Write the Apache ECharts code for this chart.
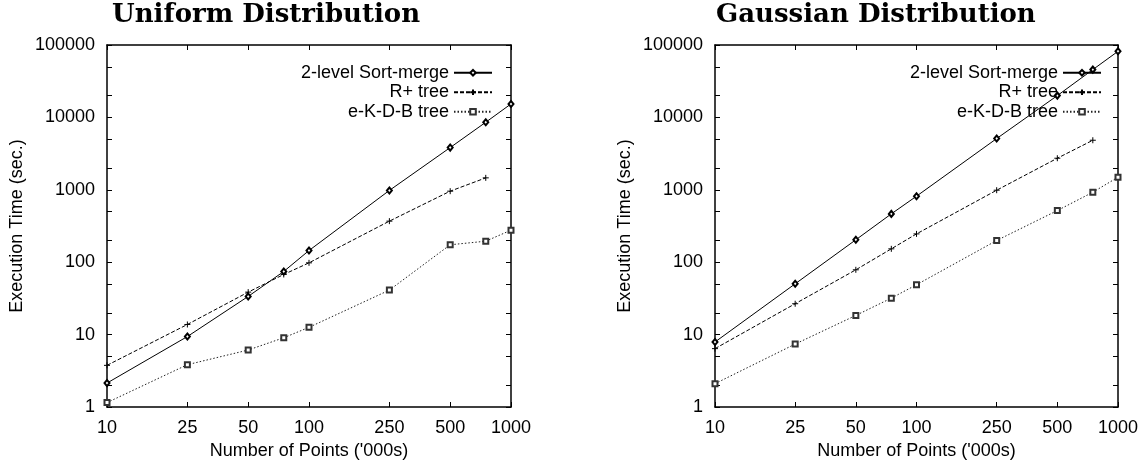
<!DOCTYPE html>
<html><head><meta charset="utf-8">
<script src="https://cdn.jsdelivr.net/npm/echarts@6/dist/echarts.min.js"></script>
<style>html,body{margin:0;padding:0;background:#fff}#c{width:1143px;height:460px}</style>
</head><body><div id="c"></div>
<script>
// ---- data ----
const points = [10, 25, 50, 75, 100, 250, 500, 750, 1000];
const xTickValues = [10, 25, 50, 100, 250, 500, 1000];
const yTickValues = [1, 2, 5, 10, 20, 50, 100, 200, 500, 1000, 2000, 5000, 10000, 20000, 50000, 100000];
const seriesNames = ['2-level Sort-merge', 'R+ tree', 'e-K-D-B tree'];
const titles = ['Uniform Distribution', 'Gaussian Distribution'];
const xAxisTitle = "Number of Points ('000s)";
const yAxisTitle = 'Execution Time (sec.)';
const uniformSortMerge = [2.14, 9.4, 33.7, 74.5, 145, 980, 3830, 8570, 15350];
const uniformRPlus = [3.76, 13.8, 38.6, 67.7, 98, 369, 957, 1462, null];
const uniformKDB = [1.15, 3.84, 6.12, 9.05, 12.6, 41.2, 174, 195, 277];
const gaussSortMerge = [7.9, 50.3, 204, 465, 816, 5100, 20000, 45700, 81800];
const gaussRPlus = [6.4, 26.7, 78.5, 153, 246, 987, 2730, 4835, null];
const gaussKDB = [2.1, 7.4, 18.4, 31.9, 48.8, 199.5, 517, 926, 1493];

// ---- chart ----
const FONT = 'Liberation Sans';
const BLACK = '#000';
const plain = v => String(Math.round(v));
function pairs(vals) {
  const out = [];
  points.forEach((p, i) => { if (vals[i] != null) out.push([p, vals[i]]); });
  return out;
}
function xAxesFor(g) {
  const base = {
    type: 'log', logBase: 10, gridIndex: g, min: 10, max: 1000,
    splitLine: { show: false }, minorTick: { show: false },
    axisLine: { show: true, onZero: false, lineStyle: { color: BLACK, width: 1.5 } },
    axisTick: { show: true, inside: true, length: 5, customValues: xTickValues, lineStyle: { color: BLACK, width: 1 } }
  };
  return [
    Object.assign({}, base, {
      position: 'bottom', name: xAxisTitle, nameLocation: 'middle', nameGap: 32,
      nameTextStyle: { fontFamily: FONT, fontSize: 18, color: BLACK },
      axisLabel: { show: true, margin: 12, customValues: xTickValues, formatter: plain, fontFamily: FONT, fontSize: 18, color: BLACK }
    }),
    Object.assign({}, base, { position: 'top', axisLabel: { show: false } })
  ];
}
function yAxesFor(g) {
  const base = {
    type: 'log', logBase: 10, gridIndex: g, min: 1, max: 100000,
    splitLine: { show: false }, minorTick: { show: false },
    axisLine: { show: true, onZero: false, lineStyle: { color: BLACK, width: 1.5 } },
    axisTick: { show: true, inside: true, length: 5, customValues: yTickValues, lineStyle: { color: BLACK, width: 1 } }
  };
  return [
    Object.assign({}, base, {
      position: 'left', name: yAxisTitle, nameLocation: 'middle', nameGap: 81,
      nameTextStyle: { fontFamily: FONT, fontSize: 18, color: BLACK },
      axisLabel: { show: true, margin: 12, formatter: plain, fontFamily: FONT, fontSize: 18, color: BLACK }
    }),
    Object.assign({}, base, { position: 'right', axisLabel: { show: false } })
  ];
}
const plusSymbol = 'path://M0,4L8,4M4,0L4,8';
function seriesFor(g, sm, rp, kdb) {
  const xi = g * 2, yi = g * 2;
  return [
    { name: seriesNames[0], type: 'line', xAxisIndex: xi, yAxisIndex: yi, data: pairs(sm),
      symbol: 'emptyDiamond', symbolSize: [5, 6], showAllSymbol: true,
      itemStyle: { color: BLACK, borderColor: BLACK, borderWidth: 1 },
      lineStyle: { color: BLACK, width: 1, type: 'solid' }, z: 3 },
    { name: seriesNames[1], type: 'line', xAxisIndex: xi, yAxisIndex: yi, data: pairs(rp),
      symbol: plusSymbol, symbolSize: 6, showAllSymbol: true,
      itemStyle: { color: BLACK, borderColor: BLACK, borderWidth: 1 },
      lineStyle: { color: BLACK, width: 1, type: [4, 2] }, z: 2 },
    { name: seriesNames[2], type: 'line', xAxisIndex: xi, yAxisIndex: yi, data: pairs(kdb),
      symbol: 'emptyRect', symbolSize: 5, showAllSymbol: true,
      itemStyle: { color: '#333', borderColor: '#333', borderWidth: 1 },
      lineStyle: { color: '#222', width: 1, type: [1.5, 2] }, z: 1 }
  ];
}
function legendFor(right) {
  return {
    orient: 'vertical', align: 'right', right: right, top: 63, padding: 0, itemGap: 0,
    itemWidth: 38, itemHeight: 7, selectedMode: false,
    textStyle: { fontFamily: FONT, fontSize: 18, color: BLACK, lineHeight: 19.5 },
    data: seriesNames
  };
}
const titleStyle = { fontFamily: 'DejaVu Serif', fontWeight: 'bold', fontSize: 26, color: BLACK, lineHeight: 30 };
const option = {
  animation: false,
  backgroundColor: '#fff',
  textStyle: { fontFamily: FONT },
  title: [
    { text: titles[0], left: 112, top: 0, padding: 0, textStyle: titleStyle },
    { text: titles[1], left: 716, top: 0, padding: 0, textStyle: titleStyle }
  ],
  legend: [legendFor(650), legendFor(41)],
  grid: [
    { left: 107, right: 632, top: 45, bottom: 53, outerBoundsMode: 'none', containLabel: false },
    { left: 715, right: 25, top: 45, bottom: 53, outerBoundsMode: 'none', containLabel: false }
  ],
  xAxis: xAxesFor(0).concat(xAxesFor(1)),
  yAxis: yAxesFor(0).concat(yAxesFor(1)),
  series: seriesFor(0, uniformSortMerge, uniformRPlus, uniformKDB)
    .concat(seriesFor(1, gaussSortMerge, gaussRPlus, gaussKDB))
};
option.series.forEach((s, i) => { const g = i < 3 ? 0 : 1; s.xAxisIndex = g * 2; s.yAxisIndex = g * 2; });
const chart = echarts.init(document.getElementById('c'), null, { renderer: 'canvas' });
chart.setOption(option);
</script>
</body></html>
